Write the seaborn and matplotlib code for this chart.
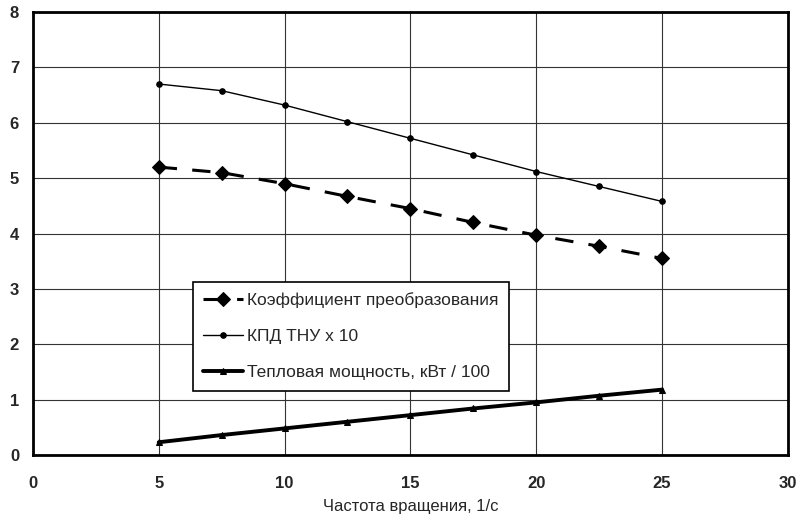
import matplotlib
matplotlib.use("Agg")
import matplotlib.pyplot as plt
import seaborn as sns
import pandas as pd

freq = [5, 7.5, 10, 12.5, 15, 17.5, 20, 22.5, 25]
koef = [5.2, 5.1, 4.9, 4.67, 4.45, 4.2, 3.97, 3.77, 3.55]
kpd = [6.7, 6.58, 6.32, 6.02, 5.72, 5.42, 5.12, 4.85, 4.58]
power = [0.23, 0.36, 0.48, 0.6, 0.72, 0.84, 0.95, 1.07, 1.18]
labels = ["Коэффициент преобразования", "КПД ТНУ х 10", "Тепловая мощность, кВт / 100"]
xticks = [0, 5, 10, 15, 20, 25, 30]
yticks = [0, 1, 2, 3, 4, 5, 6, 7, 8]

sns.set_theme(style="white")
plt.rcParams['font.family'] = ['Liberation Sans', 'DejaVu Sans']

fig = plt.figure(figsize=(8.03, 5.24), dpi=100)
ax = fig.add_axes([0.041, 0.1317, 0.94, 0.8453])

df = pd.DataFrame({"x": freq, "koef": koef, "kpd": kpd, "power": power})

sns.lineplot(data=df, x="x", y="koef", ax=ax, color="black", linewidth=2.2,
             linestyle=(0, (6, 5)), marker="D", markersize=7,
             markeredgecolor="black", label=labels[0])
sns.lineplot(data=df, x="x", y="kpd", ax=ax, color="black", linewidth=1.0,
             marker="o", markersize=4, markeredgecolor="black", label=labels[1])
sns.lineplot(data=df, x="x", y="power", ax=ax, color="black", linewidth=2.8,
             marker="^", markersize=4, markeredgecolor="black", label=labels[2])

ax.set_xlim(0, 30)
ax.set_ylim(0, 8)
ax.set_xticks(xticks)
ax.set_yticks(yticks)
ax.set_xticklabels([str(t) for t in xticks], fontsize=12, fontweight="bold")
ax.set_yticklabels([str(t) for t in yticks], fontsize=12, fontweight="bold")
ax.tick_params(axis="x", length=0, pad=15)
ax.tick_params(axis="y", length=0, pad=10)
ax.grid(True, color="#333333", linewidth=0.8)
for s in ax.spines.values():
    s.set_color("black")
    s.set_linewidth(2.0)
ax.set_xlabel("Частота вращения, 1/с", fontsize=12, labelpad=6)
ax.set_ylabel("")

leg = ax.legend(loc="upper left", bbox_to_anchor=(0.212, 0.3905), fontsize=12.5,
                frameon=True, fancybox=False, edgecolor="black", framealpha=1,
                handlelength=2.3, borderpad=0.6, labelspacing=1.2,
                handletextpad=0.2, borderaxespad=0)
leg.get_frame().set_linewidth(1.2)

fig.savefig("out.png", dpi=100)
